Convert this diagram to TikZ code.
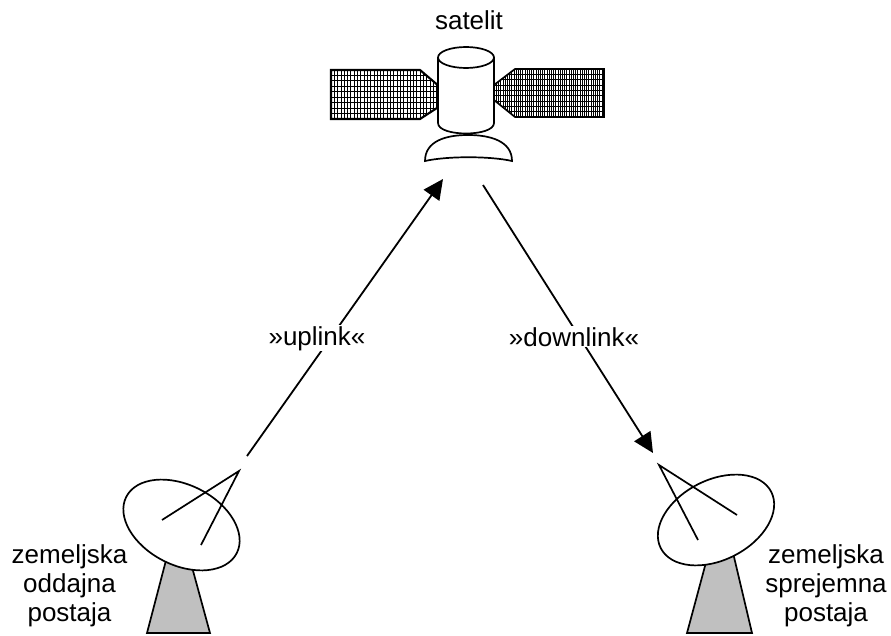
\documentclass[tikz,border=0pt]{standalone}
\usepackage{fontspec}
\setmainfont{Liberation Sans}
\usetikzlibrary{arrows.meta,shapes.geometric}
\definecolor{pedestal}{RGB}{192,192,192}

\begin{document}
\begin{tikzpicture}[x=1pt,y=-1pt,
  outline/.style={line width=1.7pt, line join=miter},
  link/.style={line width=1.8pt, -{Triangle[length=20pt,width=19pt]}},
  lbl/.style={font=\fontsize{26}{29}\selectfont, inner sep=1pt},
  linklbl/.style={lbl, fill=white},
  dish/.style={ellipse, draw, line width=1.7pt, fill=white,
    minimum width=124pt, minimum height=80pt, inner sep=0pt},
  feed/.style={line width=1.7pt},
  mast/.style={draw, line width=1.7pt, fill=pedestal, line join=miter}]
\useasboundingbox (0,0) rectangle (891,636);

% left solar wing: coarse grid
\begin{scope}
  \clip (331,70) -- (420,70) -- (440,87) -- (440,106) -- (420,119) -- (331,119) -- cycle;
  \foreach \i in {0,...,9} \draw[line width=0.9pt] (331,70+5.444*\i) -- (440,70+5.444*\i);
  \foreach \i in {0,...,33} \draw[line width=0.8pt] (331+3.3*\i,70) -- (331+3.3*\i,119);
\end{scope}
\draw[outline, line width=2.1pt] (331,70) -- (420,70) -- (440,87) -- (440,106) -- (420,119) -- (331,119) -- cycle;

% right solar wing: fine grid
\begin{scope}
  \clip (494,85) -- (515,69) -- (604,69) -- (604,117) -- (515,117) -- (494,100) -- cycle;
  \foreach \i in {0,...,9} \draw[line width=0.9pt] (494,69+5.333*\i) -- (604,69+5.333*\i);
  \foreach \i in {0,...,50} \draw[line width=0.5pt] (494+2.2*\i,69) -- (494+2.2*\i,117);
\end{scope}
\draw[outline] (494,85) -- (515,69) -- (604,69) -- (604,117) -- (515,117) -- (494,100);

% satellite body
\draw[outline, fill=white] (438,57.5) -- (438,123) .. controls (438,137) and (494,137) .. (494,123) -- (494,57.5);
\draw[outline, fill=white] (466,57.5) ellipse [x radius=28, y radius=10.5];
\draw[outline, fill=white] (425,161) .. controls (425,141) and (446,135) .. (468,135)
  .. controls (490,135) and (512,141) .. (512,161)
  .. controls (490,156) and (447,156) .. cycle;
\node[lbl, anchor=base] (satL) at (469,30) {satelit};

% transmitting station
\draw[mast] (170,545) -- (186,545) -- (210,633) -- (147,633) -- cycle;
\node[dish, rotate=-27] (dishL) at (181.5,525) {};
\coordinate (feedL) at (239,471);
\draw[feed] (162,520) -- (feedL) -- (201,545);
\node[lbl, align=center] (txL) at (69.5,586) {zemeljska\\oddajna\\postaja};

% receiving station
\draw[mast] (712,540) -- (730,540) -- (752,633) -- (687,633) -- cycle;
\node[dish, rotate=27] (dishR) at (716,520) {};
\coordinate (feedR) at (659,465);
\draw[feed] (737,515) -- (feedR) -- (698,540);
\node[lbl, align=center] (txR) at (826,586) {zemeljska\\sprejemna\\postaja};

% links
\coordinate (upA) at (247,456);
\coordinate (upB) at (443,179);
\draw[link] (upA) -- (upB);
\node[linklbl, anchor=base] (upL) at (317,345) {»uplink«};
\coordinate (dnA) at (483,185);
\coordinate (dnB) at (653,453);
\draw[link] (dnA) -- (dnB);
\node[linklbl, anchor=base] (dnL) at (574,346) {»downlink«};
\end{tikzpicture}
\end{document}
